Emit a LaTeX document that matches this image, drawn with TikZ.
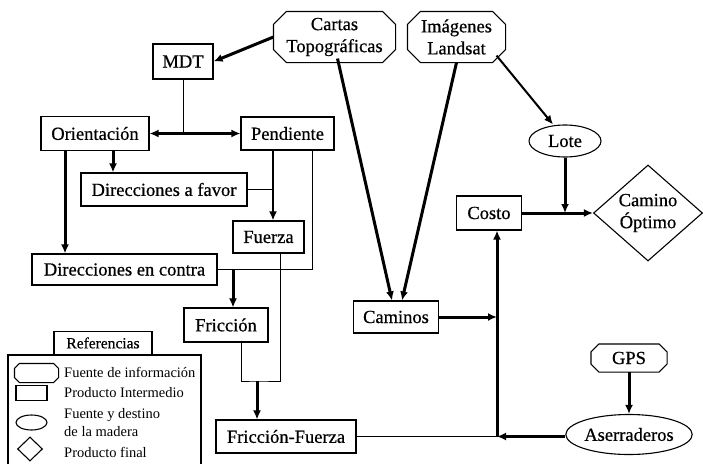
\documentclass[tikz,border=0pt]{standalone}
\usepackage{fontspec}
\setmainfont{Liberation Serif}
\newfontfamily\rotulo{Liberation Serif}[FakeBold=0.6]
\usetikzlibrary{positioning,shapes,calc,arrows.meta}

% octagono alrededor de un nodo: #1 nombre, #2 corte de esquina
\newcommand{\octagono}[2]{%
  \draw[line width=1.1pt] ($(#1.north west)+(#2,0)$) -- ($(#1.north east)+(-#2,0)$)
    -- ($(#1.north east)+(0,#2)$) -- ($(#1.south east)+(0,-#2)$)
    -- ($(#1.south east)+(-#2,0)$) -- ($(#1.south west)+(#2,0)$)
    -- ($(#1.south west)+(0,-#2)$) -- ($(#1.north west)+(0,#2)$) -- cycle;}

\begin{document}
\begin{tikzpicture}[x=1pt,y=-1pt,
    caja/.style={draw,rectangle,line width=1.1pt,inner sep=0pt,font=\rotulo\fontsize{18.5}{22}\selectfont},
    fuente/.style={caja,draw=none,align=center},
    madera/.style={caja,ellipse},
    final/.style={caja,diamond,align=center},
    fino/.style={line width=1pt},
    medio/.style={line width=2pt,-{Latex[length=9pt,width=8pt]}},
    grueso/.style={line width=3pt,-{Latex[length=9pt,width=8pt]}},
    leyenda/.style={font=\fontsize{14.5}{17}\selectfont,anchor=west,inner sep=0pt}]
      \useasboundingbox (0,0) rectangle (703,463);
      \clip (0,0) rectangle (703,463);
      % fuentes de informacion
      \node[fuente,minimum width=121pt,minimum height=50pt] (cartas) at (334.5,37) {Cartas\\Topográficas};
      \node[fuente,minimum width=97pt,minimum height=50pt] (landsat) at (456.5,37) {Imágenes\\Landsat};
      \node[fuente,minimum width=75pt,minimum height=27pt] (gps) at (629,358) {GPS};
      \octagono{cartas}{13}
      \octagono{landsat}{13}
      \octagono{gps}{8}
      % productos intermedios
      \node[caja,minimum width=60pt,minimum height=35pt] (mdt) at (183,61.5) {MDT};
      \node[caja,minimum width=108pt,minimum height=34pt] (orient) at (95,133.5) {Orientación};
      \node[caja,minimum width=93pt,minimum height=33pt] (pend) at (287.5,133.5) {Pendiente};
      \node[caja,minimum width=166pt,minimum height=33pt] (favor) at (164,189.5) {Direcciones a favor};
      \node[caja,minimum width=71pt,minimum height=32pt] (fuerza) at (268.5,237) {Fuerza};
      \node[caja,minimum width=185pt,minimum height=31pt] (contra) at (124.5,269.5) {Direcciones en contra};
      \node[caja,minimum width=84pt,minimum height=34pt] (fric) at (226,325) {Fricción};
      \node[caja,minimum width=140pt,minimum height=33pt] (fricfuer) at (286,436.5) {Fricción-Fuerza};
      \node[caja,minimum width=85pt,minimum height=32pt] (caminos) at (396,317) {Caminos};
      \node[caja,minimum width=65pt,minimum height=34pt] (costo) at (489,213) {Costo};
      % fuente y destino, producto final
      \node[madera,minimum width=72pt,minimum height=32pt] (lote) at (565,141) {Lote};
      \node[madera,minimum width=122pt,minimum height=40pt] (aser) at (629,434.5) {Aserraderos};
      \node[final,minimum width=109pt,minimum height=96pt,shape aspect=1.15] (optimo) at (648,213) {Camino\\Óptimo};
      % conexiones
      \draw[grueso] (cartas.west) -- (mdt.east);
      \coordinate (jmdt) at (mdt.south |- orient.east);
      \draw[fino] (mdt.south) -- (jmdt);
      \draw[grueso,{Latex[length=9pt,width=8pt]}-{Latex[length=9pt,width=8pt]}] (orient.east) -- (pend.west);
      \draw[grueso] ([xshift=18pt]orient.south) -- ([xshift=18pt]orient.south |- favor.north);
      \draw[grueso] ([xshift=-30pt]orient.south) -- ([xshift=-30pt]orient.south |- contra.north);
      \draw[medio] ([xshift=-14.5pt]pend.south) -- ([xshift=-14.5pt]pend.south |- fuerza.north);
      \draw[fino] (favor.east) -- ([xshift=-14.5pt]pend.south |- favor.east);
      \draw[fino] ([xshift=25pt]pend.south) |- (contra.east);
      \coordinate (jcontra) at (233,269.5);
      \draw[grueso] (jcontra) -- (jcontra |- fric.north);
      \coordinate (jfric) at (257,381);
      \draw[fino] ([xshift=11.5pt]fuerza.south) |- (jfric) -| ([xshift=15pt]fric.south);
      \draw[grueso] (jfric) -- (jfric |- fricfuer.north);
      \coordinate (jaser) at (497,436.5);
      \draw[fino] (fricfuer.east) -- (jaser);
      \draw[grueso] (aser.west |- jaser) -- (jaser);
      \draw[grueso] (jaser) -- (jaser |- costo.south);
      \draw[grueso] (caminos.east) -- (caminos.east -| jaser);
      \draw[grueso] ([xshift=3pt,yshift=4pt]cartas.south) -- ([xshift=-4pt]caminos.north);
      \draw[grueso] (landsat.south) -- ([xshift=6pt]caminos.north);
      \draw[medio] ([xshift=40pt,yshift=7pt]landsat.south) -- ([xshift=-12pt]lote.north);
      \draw[grueso] (lote.south) -- (lote.south |- optimo.west);
      \draw[grueso] (costo.east) -- (optimo.west);
      \draw[grueso] (gps.south) -- (aser.north);
      % referencias
      \draw[line width=1.1pt] (8,355) rectangle (201,475);
      \node[caja,font=\rotulo\fontsize{15.5}{17}\selectfont,minimum width=98pt,minimum height=23pt,anchor=south] (refs) at (103,355) {Referencias};
      \node[fuente,minimum width=43pt,minimum height=18pt] (lfuente) at (36.5,373) {};
      \octagono{lfuente}{5}
      \node[caja,minimum width=31pt,minimum height=15pt] (linter) at (31.5,393) {};
      \node[madera,minimum width=31pt,minimum height=15pt] (lmadera) at (31.5,422.5) {};
      \node[final,minimum width=25pt,minimum height=24pt] (lfinal) at (30,449) {};
      \foreach \y/\texto in {372/Fuente de información,393/Producto Intermedio,415/Fuente y destino,432/de la madera,452/Producto final}
      \node[leyenda] (ley\y) at (64,\y) {\texto};
    \end{tikzpicture}
\end{document}
